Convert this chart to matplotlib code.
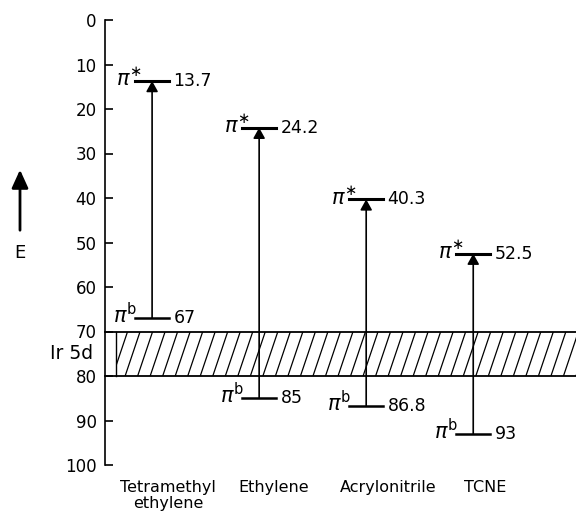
import matplotlib.pyplot as plt
import matplotlib.patches as mpatches
import numpy as np

# energy levels (E axis runs downward)
olefins = ["Tetramethyl\nethylene", "Ethylene", "Acrylonitrile", "TCNE"]
pi_star = [13.7, 24.2, 40.3, 52.5]
pi_bond = [67, 85, 86.8, 93]
pi_star_lbl = ["13.7", "24.2", "40.3", "52.5"]
pi_bond_lbl = ["67", "85", "86.8", "93"]
ir_band = [70, 80]
yticks = list(range(0, 101, 10))

label_shift = [0.15, 0.14, 0.21, 0.11]
half = 0.16

fig = plt.figure(figsize=(5.76, 5.21), dpi=100)
ax = fig.add_axes([105 / 576, 56 / 521, 471 / 576, 445 / 521])
ax.set_xlim(-0.44, 3.96)
ax.set_ylim(100, 0)

for s in ["top", "right", "bottom"]:
    ax.spines[s].set_visible(False)
ax.spines["left"].set_linewidth(1.2)
ax.set_xticks([])
ax.set_yticks(yticks)
ax.tick_params(axis="y", direction="in", length=6, width=1.2, pad=6, labelsize=12)

# Ir 5d band with steep hatching
x_left, x_right = -0.336, 3.96
ax.plot([-0.44, x_right], [ir_band[0]] * 2, color="black", lw=1.3, clip_on=False)
ax.plot([-0.44, x_right], [ir_band[1]] * 2, color="black", lw=1.3, clip_on=False)
ax.plot([x_left, x_left], ir_band, color="black", lw=1.0)
rect = mpatches.Rectangle((x_left, ir_band[0]), x_right - x_left, ir_band[1] - ir_band[0],
                          fill=False, lw=0, transform=ax.transData)
ax.add_patch(rect)
for x0 in np.arange(x_left - 0.15, x_right + 0.1, 0.117):
    ln, = ax.plot([x0, x0 + 0.14], [ir_band[1], ir_band[0]], color="black", lw=0.9)
    ln.set_clip_path(rect)

ax.text(-0.44, np.mean(ir_band), "Ir 5d  ", ha="right", va="center", fontsize=13.5,
        transform=ax.transData, clip_on=False)

for i, name in enumerate(olefins):
    ax.plot([i - half, i + half], [pi_star[i]] * 2, color="black", lw=2.2)
    ax.plot([i - half, i + half], [pi_bond[i]] * 2, color="black", lw=1.8)
    ax.annotate("", xy=(i, pi_star[i]), xytext=(i, pi_bond[i]),
                arrowprops=dict(arrowstyle="-|>,head_length=0.45,head_width=0.25",
                                mutation_scale=14, lw=1.2, color="black",
                                shrinkA=0, shrinkB=0))
    ax.text(i - half + 0.07, pi_star[i] + 1.2, r"$\pi^{\ast}$", ha="right", va="baseline",
            fontsize=15)
    ax.text(i - half + 0.02, pi_bond[i] + 1.2, r"$\pi^{\mathrm{b}}$", ha="right",
            va="baseline", fontsize=15)
    ax.text(i + half + 0.04, pi_star[i], pi_star_lbl[i], ha="left", va="center", fontsize=12.5)
    ax.text(i + half + 0.04, pi_bond[i], pi_bond_lbl[i], ha="left", va="center", fontsize=12.5)
    ax.text(i + label_shift[i], 103.3, name, ha="center", va="top", fontsize=11.5,
            linespacing=1.15, clip_on=False)

# E arrow on the far left
fig.patches.append(mpatches.FancyArrowPatch((20 / 576, 1 - 233 / 521), (20 / 576, 1 - 167 / 521),
                                            transform=fig.transFigure,
                                            arrowstyle="-|>,head_length=0.55,head_width=0.25",
                                            mutation_scale=20, lw=2.0, color="black"))
fig.text(20 / 576, 1 - 253 / 521, "E", ha="center", va="center", fontsize=13)

fig.savefig("out.png", dpi=100)
